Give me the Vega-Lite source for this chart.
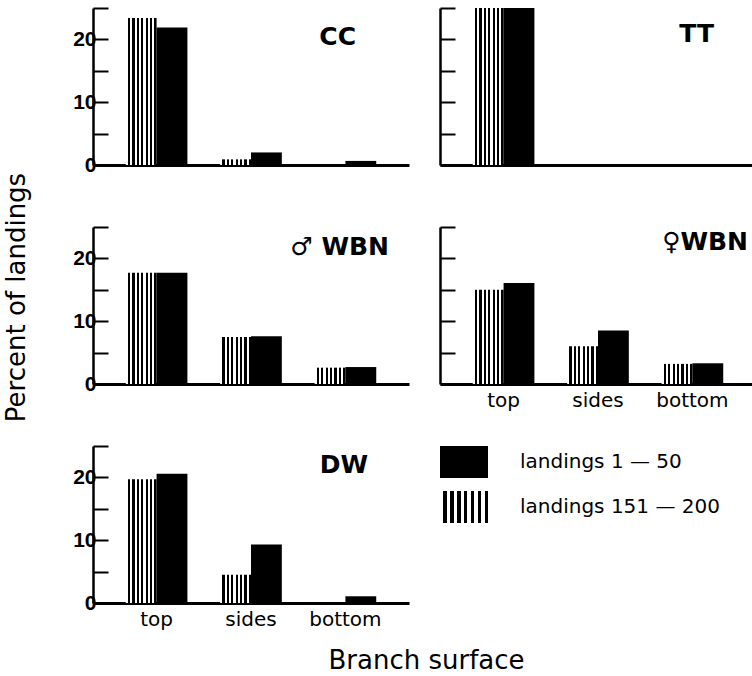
{
  "$schema": "https://vega.github.io/schema/vega-lite/v6.json",
  "padding": {"left": 2, "top": 7, "right": 0, "bottom": 0},
  "autosize": {"type": "pad"},
  "background": "white",
  "params": [
    {"name": "hatch", "expr": "{gradient: 'linear', x1: 0, y1: 0, x2: 1, y2: 0, stops: [{offset: 0, color: 'white'}, {offset: 0.0714, color: 'white'}, {offset: 0.0714, color: 'black'}, {offset: 0.1429, color: 'black'}, {offset: 0.1429, color: 'white'}, {offset: 0.2143, color: 'white'}, {offset: 0.2143, color: 'black'}, {offset: 0.2857, color: 'black'}, {offset: 0.2857, color: 'white'}, {offset: 0.3571, color: 'white'}, {offset: 0.3571, color: 'black'}, {offset: 0.4286, color: 'black'}, {offset: 0.4286, color: 'white'}, {offset: 0.5, color: 'white'}, {offset: 0.5, color: 'black'}, {offset: 0.5714, color: 'black'}, {offset: 0.5714, color: 'white'}, {offset: 0.6429, color: 'white'}, {offset: 0.6429, color: 'black'}, {offset: 0.7143, color: 'black'}, {offset: 0.7143, color: 'white'}, {offset: 0.7857, color: 'white'}, {offset: 0.7857, color: 'black'}, {offset: 0.8571, color: 'black'}, {offset: 0.8571, color: 'white'}, {offset: 0.9286, color: 'white'}, {offset: 0.9286, color: 'black'}, {offset: 1, color: 'black'}]}"}
  ],
  "datasets": {
    "d": [
      {"panel": "CC", "surface": "top", "series": "landings 151 — 200", "value": 23.4},
      {"panel": "CC", "surface": "top", "series": "landings 1 — 50", "value": 21.9},
      {"panel": "CC", "surface": "sides", "series": "landings 151 — 200", "value": 0.9},
      {"panel": "CC", "surface": "sides", "series": "landings 1 — 50", "value": 2.0},
      {"panel": "CC", "surface": "bottom", "series": "landings 151 — 200", "value": 0},
      {"panel": "CC", "surface": "bottom", "series": "landings 1 — 50", "value": 0.65},
      {"panel": "TT", "surface": "top", "series": "landings 151 — 200", "value": 25},
      {"panel": "TT", "surface": "top", "series": "landings 1 — 50", "value": 25},
      {"panel": "TT", "surface": "sides", "series": "landings 151 — 200", "value": 0},
      {"panel": "TT", "surface": "sides", "series": "landings 1 — 50", "value": 0},
      {"panel": "TT", "surface": "bottom", "series": "landings 151 — 200", "value": 0},
      {"panel": "TT", "surface": "bottom", "series": "landings 1 — 50", "value": 0},
      {"panel": "MWBN", "surface": "top", "series": "landings 151 — 200", "value": 17.7},
      {"panel": "MWBN", "surface": "top", "series": "landings 1 — 50", "value": 17.7},
      {"panel": "MWBN", "surface": "sides", "series": "landings 151 — 200", "value": 7.5},
      {"panel": "MWBN", "surface": "sides", "series": "landings 1 — 50", "value": 7.6},
      {"panel": "MWBN", "surface": "bottom", "series": "landings 151 — 200", "value": 2.6},
      {"panel": "MWBN", "surface": "bottom", "series": "landings 1 — 50", "value": 2.7},
      {"panel": "FWBN", "surface": "top", "series": "landings 151 — 200", "value": 15.0},
      {"panel": "FWBN", "surface": "top", "series": "landings 1 — 50", "value": 16.1},
      {"panel": "FWBN", "surface": "sides", "series": "landings 151 — 200", "value": 6.0},
      {"panel": "FWBN", "surface": "sides", "series": "landings 1 — 50", "value": 8.5},
      {"panel": "FWBN", "surface": "bottom", "series": "landings 151 — 200", "value": 3.2},
      {"panel": "FWBN", "surface": "bottom", "series": "landings 1 — 50", "value": 3.3},
      {"panel": "DW", "surface": "top", "series": "landings 151 — 200", "value": 19.7},
      {"panel": "DW", "surface": "top", "series": "landings 1 — 50", "value": 20.6},
      {"panel": "DW", "surface": "sides", "series": "landings 151 — 200", "value": 4.5},
      {"panel": "DW", "surface": "sides", "series": "landings 1 — 50", "value": 9.3},
      {"panel": "DW", "surface": "bottom", "series": "landings 151 — 200", "value": 0},
      {"panel": "DW", "surface": "bottom", "series": "landings 1 — 50", "value": 1.07}
    ]
  },
  "data": {"name": "d"},
  "columns": 2,
  "bounds": "flush",
  "spacing": {"row": 62, "column": 31},
  "resolve": {"legend": {"fill": "independent"}},
  "concat": [
    {
      "width": 316, "height": 157,
      "title": {"text": "CC", "orient": "none", "anchor": "end", "frame": "group", "baseline": "alphabetic", "dx": 263, "dy": 37},
      "transform": [{"filter": "datum.panel === 'CC'"}],
      "mark": {"type": "bar"},
      "encoding": {
        "x": {"field": "surface", "type": "nominal", "sort": ["top", "sides", "bottom"], "scale": {"paddingInner": 0.347, "paddingOuter": 0.347}, "axis": {"labels": false, "title": null}},
        "xOffset": {"field": "series", "type": "nominal", "scale": {"domain": ["landings 151 — 200", "landings 1 — 50"], "paddingInner": 0, "paddingOuter": 0}},
        "y": {"field": "value", "type": "quantitative", "scale": {"domain": [0, 25], "nice": false}, "axis": {"values": [0, 5, 10, 15, 20, 25], "labelExpr": "datum.value % 10 === 0 ? datum.label : ''", "title": null}},
        "fill": {"field": "series", "type": "nominal", "scale": {"domain": ["landings 1 — 50", "landings 151 — 200"], "range": ["black", {"expr": "hatch"}]}, "legend": null}
      }
    },
    {
      "width": 316, "height": 157,
      "title": {"text": "TT", "orient": "none", "anchor": "end", "frame": "group", "baseline": "alphabetic", "dx": 274, "dy": 34},
      "transform": [{"filter": "datum.panel === 'TT'"}],
      "mark": {"type": "bar"},
      "encoding": {
        "x": {"field": "surface", "type": "nominal", "sort": ["top", "sides", "bottom"], "scale": {"paddingInner": 0.347, "paddingOuter": 0.347}, "axis": {"labels": false, "title": null}},
        "xOffset": {"field": "series", "type": "nominal", "scale": {"domain": ["landings 151 — 200", "landings 1 — 50"], "paddingInner": 0, "paddingOuter": 0}},
        "y": {"field": "value", "type": "quantitative", "scale": {"domain": [0, 25], "nice": false}, "axis": {"values": [0, 5, 10, 15, 20, 25], "labels": false, "title": null}},
        "fill": {"field": "series", "type": "nominal", "scale": {"domain": ["landings 1 — 50", "landings 151 — 200"], "range": ["black", {"expr": "hatch"}]}, "legend": null}
      }
    },
    {
      "width": 316, "height": 157,
      "title": {"text": "♂ WBN", "orient": "none", "anchor": "end", "frame": "group", "baseline": "alphabetic", "dx": 296, "dy": 28},
      "transform": [{"filter": "datum.panel === 'MWBN'"}],
      "mark": {"type": "bar"},
      "encoding": {
        "x": {"field": "surface", "type": "nominal", "sort": ["top", "sides", "bottom"], "scale": {"paddingInner": 0.347, "paddingOuter": 0.347}, "axis": {"labels": false, "title": null}},
        "xOffset": {"field": "series", "type": "nominal", "scale": {"domain": ["landings 151 — 200", "landings 1 — 50"], "paddingInner": 0, "paddingOuter": 0}},
        "y": {"field": "value", "type": "quantitative", "scale": {"domain": [0, 25], "nice": false}, "axis": {"values": [0, 5, 10, 15, 20, 25], "labelExpr": "datum.value % 10 === 0 ? datum.label : ''", "title": "Percent of landings", "titleFont": "DejaVu Sans", "titleFontSize": 26, "titleFontWeight": "normal", "titleX": -64, "titleY": 70, "titleAngle": -90, "titleAlign": "center", "titleBaseline": "bottom"}},
        "fill": {"field": "series", "type": "nominal", "scale": {"domain": ["landings 1 — 50", "landings 151 — 200"], "range": ["black", {"expr": "hatch"}]}, "legend": null}
      }
    },
    {
      "width": 316, "height": 157,
      "title": {"text": "♀WBN", "orient": "none", "anchor": "end", "frame": "group", "baseline": "alphabetic", "dx": 308, "dy": 23},
      "transform": [{"filter": "datum.panel === 'FWBN'"}],
      "mark": {"type": "bar"},
      "encoding": {
        "x": {"field": "surface", "type": "nominal", "sort": ["top", "sides", "bottom"], "scale": {"paddingInner": 0.347, "paddingOuter": 0.347}, "axis": {"title": null}},
        "xOffset": {"field": "series", "type": "nominal", "scale": {"domain": ["landings 151 — 200", "landings 1 — 50"], "paddingInner": 0, "paddingOuter": 0}},
        "y": {"field": "value", "type": "quantitative", "scale": {"domain": [0, 25], "nice": false}, "axis": {"values": [0, 5, 10, 15, 20, 25], "labels": false, "title": null}},
        "fill": {"field": "series", "type": "nominal", "scale": {"domain": ["landings 1 — 50", "landings 151 — 200"], "range": ["black", {"expr": "hatch"}]}, "legend": null}
      }
    },
    {
      "width": 316, "height": 157,
      "title": {"text": "DW", "orient": "none", "anchor": "end", "frame": "group", "baseline": "alphabetic", "dx": 275, "dy": 27},
      "transform": [{"filter": "datum.panel === 'DW'"}],
      "mark": {"type": "bar"},
      "encoding": {
        "x": {"field": "surface", "type": "nominal", "sort": ["top", "sides", "bottom"], "scale": {"paddingInner": 0.347, "paddingOuter": 0.347}, "axis": {"title": "Branch surface", "titleFont": "DejaVu Sans", "titleFontSize": 26, "titleFontWeight": "normal", "titleX": 333, "titleY": 65, "titleAlign": "center", "titleBaseline": "alphabetic"}},
        "xOffset": {"field": "series", "type": "nominal", "scale": {"domain": ["landings 151 — 200", "landings 1 — 50"], "paddingInner": 0, "paddingOuter": 0}},
        "y": {"field": "value", "type": "quantitative", "scale": {"domain": [0, 25], "nice": false}, "axis": {"values": [0, 5, 10, 15, 20, 25], "labelExpr": "datum.value % 10 === 0 ? datum.label : ''", "title": null}},
        "fill": {"field": "series", "type": "nominal", "scale": {"domain": ["landings 1 — 50", "landings 151 — 200"], "range": ["black", {"expr": "hatch"}]}, "legend": {"orient": "right", "offset": 39, "title": null, "padding": 0, "symbolType": "M-1.5,-1H1.5V1H-1.5Z", "symbolSize": 1024, "symbolStrokeWidth": 0, "labelFont": "DejaVu Sans", "labelFontSize": 20, "labelColor": "black", "labelOffset": 40, "rowPadding": 13, "labelLimit": 400}}
      }
    }
  ],
  "config": {
    "view": {"stroke": null},
    "title": {"font": "DejaVu Sans", "fontSize": 25, "fontWeight": "bold", "color": "black"},
    "axis": {"grid": false, "domainColor": "black", "tickColor": "black", "labelColor": "black", "titleColor": "black"},
    "axisY": {"domainWidth": 2.5, "tickWidth": 2, "tickSize": -15, "labelFont": "Liberation Sans", "labelFontSize": 21, "labelFontWeight": "bold", "labelPadding": 12},
    "axisX": {"domainWidth": 3, "ticks": false, "labelAngle": 0, "labelFont": "DejaVu Sans", "labelFontSize": 20, "labelPadding": 6}
  }
}
